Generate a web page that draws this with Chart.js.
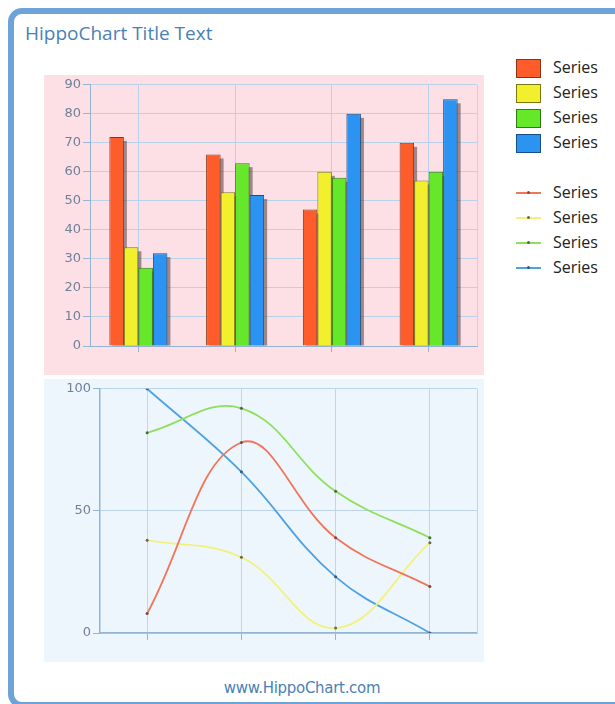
<!DOCTYPE html>
<html lang="en">
<head>
  <meta charset="UTF-8" />
  <title>HippoChart</title>
  <script src="https://cdn.jsdelivr.net/npm/chart.js"></script>
  <style>
    html, body { margin: 0; padding: 0; background: #fff; }
    body { width: 615px; height: 704px; position: relative; overflow: hidden; font-family: "Open Sans", sans-serif; }
    #frame { position: absolute; left: 8px; top: 8px; width: 640px; height: 688px; border: 6px solid #6ea3d8; border-radius: 14px; }
    #title { position: absolute; left: 25px; top: 20px; font-size: 19px; color: #4a7fb8; }
    #barBox { position: absolute; left: 44px; top: 75px; width: 440px; height: 300px; background: #fde0e6; }
    #lineBox { position: absolute; left: 44px; top: 379px; width: 440px; height: 283px; background: #eef6fd; }
    #legend { position: absolute; left: 516px; top: 56px; }
    .row { position: relative; height: 25px; }
    .sw { position: absolute; left: 0; top: 3px; width: 23px; height: 17px; border: 1px solid #555; }
    .ln { position: absolute; left: 0; top: 11px; width: 25px; height: 2px; }
    .dot { position: absolute; left: 11px; top: 10px; width: 3px; height: 3px; border-radius: 2px; background: #555; }
    .lab { position: absolute; left: 37px; top: 0; font-size: 16px; line-height: 23px; color: #222; }
    .gap { height: 25px; }
    #footer { position: absolute; left: 0; width: 604px; top: 679px; text-align: center; font-size: 15px; color: #4a7fb8; font-family: "DejaVu Sans", sans-serif; letter-spacing: -0.3px; }
  </style>
</head>
<body>
  <div id="frame"></div>
  <div id="title">HippoChart Title Text</div>
  <div id="barBox"><canvas id="barChart" width="440" height="300"></canvas></div>
  <div id="lineBox"><canvas id="lineChart" width="440" height="283"></canvas></div>
  <div id="legend"></div>
  <div id="footer">www.HippoChart.com</div>

  <script>
    // data
    const categories = ['1', '2', '3', '4'];
    const seriesNames = ['Series', 'Series', 'Series', 'Series'];

    const barOrange = [72, 66, 47, 70];
    const barYellow = [34, 53, 60, 57];
    const barGreen  = [27, 63, 58, 60];
    const barBlue   = [32, 52, 80, 85];

    const lineOrange = [8, 78, 39, 19];
    const lineYellow = [38, 31, 2, 37];
    const lineGreen  = [82, 92, 58, 39];
    const lineBlue   = [100, 66, 23, 0];

    const barTicks = [0, 10, 20, 30, 40, 50, 60, 70, 80, 90];
    const lineTicks = [0, 50, 100];

    const barFill   = ['#ff5c2b', '#f2f02c', '#66e82a', '#2b93f2'];
    const barBorder = ['#8a3414', '#7a7814', '#2f7a12', '#184f86'];
    const lineColor = ['#f0765a', '#f2f27a', '#8ee05a', '#4ea2e2'];
    const pointColor = ['#7a4a40', '#6a6a40', '#4a6a3a', '#3a5a7a'];

    const tickFont = { family: 'DejaVu Sans', size: 13 };
    const tickColor = '#6f8098';
    const axisColor = '#94b4d4';

    // legend
    const legend = document.getElementById('legend');
    seriesNames.forEach((name, i) => {
      const r = document.createElement('div');
      r.className = 'row';
      r.innerHTML = `<div class="sw" style="background:${barFill[i]};border-color:${barBorder[i]}"></div><div class="lab">${name}</div>`;
      legend.appendChild(r);
    });
    const g = document.createElement('div');
    g.className = 'gap';
    legend.appendChild(g);
    seriesNames.forEach((name, i) => {
      const r = document.createElement('div');
      r.className = 'row';
      r.innerHTML = `<div class="ln" style="background:${lineColor[i]}"></div><div class="dot" style="background:${pointColor[i]}"></div><div class="lab">${name}</div>`;
      legend.appendChild(r);
    });

    // drop shadow behind every bar, taken from the bar elements themselves
    const shadowPlugin = {
      id: 'barShadow',
      beforeDatasetsDraw(chart) {
        const ctx = chart.ctx;
        const a = chart.chartArea;
        ctx.save();
        ctx.beginPath();
        ctx.rect(a.left, a.top - 10, a.right - a.left + 10, a.bottom - a.top + 10);
        ctx.clip();
        ctx.fillStyle = 'rgba(80,60,60,0.55)';
        chart.data.datasets.forEach((ds, i) => {
          chart.getDatasetMeta(i).data.forEach(bar => {
            const p = bar.getProps(['x', 'y', 'base', 'width']);
            const left = p.x - p.width / 2;
            ctx.fillRect(left + 3, p.y + 4, p.width, p.base - p.y - 4);
          });
        });
        ctx.restore();
      }
    };

    const rightEdge = {
      id: 'rightEdge',
      beforeDatasetsDraw(chart) {
        const a = chart.chartArea, ctx = chart.ctx;
        ctx.save();
        ctx.strokeStyle = '#c2d6ea';
        ctx.lineWidth = 1;
        ctx.beginPath();
        ctx.moveTo(Math.round(a.right) + 0.5, a.top);
        ctx.lineTo(Math.round(a.right) + 0.5, a.bottom);
        ctx.stroke();
        ctx.restore();
      }
    };

    const barSets = [barOrange, barYellow, barGreen, barBlue];
    new Chart(document.getElementById('barChart'), {
      type: 'bar',
      data: {
        labels: categories,
        datasets: barSets.map((d, i) => ({
          label: seriesNames[i],
          data: d,
          backgroundColor: barFill[i],
          borderColor: barBorder[i],
          borderWidth: 1,
          borderSkipped: 'bottom',
          categoryPercentage: 0.6,
          barPercentage: 1.0
        }))
      },
      options: {
        responsive: false,
        animation: false,
        layout: { padding: { top: 8, right: 7, left: 0, bottom: 0 } },
        plugins: { legend: { display: false }, tooltip: { enabled: false } },
        scales: {
          x: {
            offset: true,
            grid: { offset: false, color: '#b9d2ea', tickColor: axisColor, tickLength: 6 },
            border: { color: axisColor },
            ticks: { display: false },
            afterFit: s => { s.height = 29; }
          },
          y: {
            min: 0, max: 90,
            afterBuildTicks: s => { s.ticks = barTicks.map(v => ({ value: v })); },
            grid: { color: '#b9d2ea', tickColor: axisColor, tickLength: 7 },
            border: { color: axisColor },
            ticks: { font: tickFont, color: tickColor, padding: 2 },
            afterFit: s => { s.width = 46; }
          }
        }
      },
      plugins: [rightEdge, shadowPlugin]
    });

    const lineSets = [lineOrange, lineYellow, lineGreen, lineBlue];
    new Chart(document.getElementById('lineChart'), {
      type: 'line',
      data: {
        labels: categories,
        datasets: lineSets.map((d, i) => ({
          label: seriesNames[i],
          data: d,
          borderColor: lineColor[i],
          borderWidth: 1.8,
          tension: 0.4,
          fill: false,
          pointRadius: 1.5,
          pointBorderWidth: 0,
          pointBackgroundColor: pointColor[i]
        }))
      },
      options: {
        responsive: false,
        animation: false,
        layout: { padding: { top: 4, right: 7, left: 0, bottom: 0 } },
        plugins: { legend: { display: false }, tooltip: { enabled: false } },
        scales: {
          x: {
            offset: true,
            grid: { offset: false, color: '#c2d6ea', tickColor: axisColor, tickLength: 7 },
            border: { color: axisColor, width: 1.5 },
            ticks: { display: false },
            afterFit: s => { s.height = 29; }
          },
          y: {
            min: 0, max: 100,
            afterBuildTicks: s => { s.ticks = lineTicks.map(v => ({ value: v })); },
            grid: { color: '#bcd3ea', tickColor: axisColor, tickLength: 7 },
            border: { color: axisColor, width: 1.5 },
            ticks: { font: tickFont, color: tickColor, padding: 2 },
            afterFit: s => { s.width = 56; }
          }
        }
      },
      plugins: [rightEdge]
    });
  </script>
</body>
</html>
